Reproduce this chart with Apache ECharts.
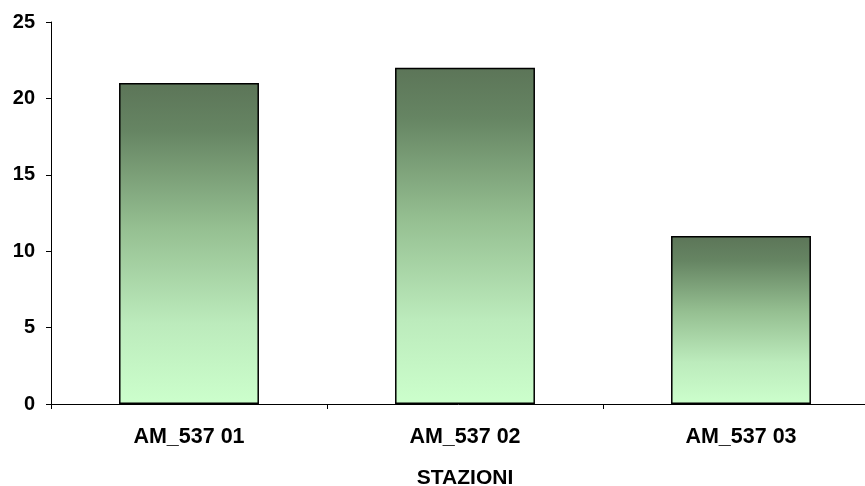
<!DOCTYPE html>
<html>
<head>
<meta charset="utf-8">
<script src="https://cdn.jsdelivr.net/npm/echarts@6/dist/echarts.min.js"></script>
<style>html,body{margin:0;padding:0;background:#fff}#c{width:865px;height:486px}</style>
</head>
<body>
<div id="c"></div>
<script>
var categories = ['AM_537 01', 'AM_537 02', 'AM_537 03'];
var values = [21, 22, 11];
var yTicks = [0, 5, 10, 15, 20, 25];
var xTitle = 'STAZIONI';

var chart = echarts.init(document.getElementById('c'), null, {renderer: 'canvas'});
var font = {fontFamily: 'Liberation Sans, Arial, sans-serif', fontWeight: 'bold', fontSize: 20, color: '#000'};
chart.setOption({
  animation: false,
  grid: {left: 51, width: 828, top: 22, height: 382, outerBoundsMode: 'none', containLabel: false},
  xAxis: {
    type: 'category',
    data: categories,
    name: xTitle,
    nameLocation: 'middle',
    nameGap: 64,
    nameTextStyle: Object.assign({}, font, {fontSize: 21}),
    axisLine: {lineStyle: {color: '#000', width: 1}},
    axisTick: {show: true, length: 5, lineStyle: {color: '#000'}},
    axisLabel: Object.assign({}, font, {margin: 22, fontSize: 21.5})
  },
  yAxis: {
    type: 'value',
    min: yTicks[0],
    max: yTicks[yTicks.length - 1],
    interval: 5,
    splitLine: {show: false},
    axisLine: {show: true, lineStyle: {color: '#000', width: 1}},
    axisTick: {show: true, length: 5, lineStyle: {color: '#000'}},
    axisLabel: Object.assign({margin: 16}, font)
  },
  series: [{
    type: 'bar',
    data: values,
    barWidth: '50.7%',
    itemStyle: {
      borderColor: '#000',
      borderWidth: 1.5,
      color: new echarts.graphic.LinearGradient(0, 0, 0, 1, [
        {offset: 0, color: '#5c7558'},
        {offset: 0.15, color: '#668563'},
        {offset: 0.45, color: '#95bf91'},
        {offset: 0.75, color: '#bcebbc'},
        {offset: 1, color: '#ccffcc'}
      ])
    }
  }]
});
</script>
</body>
</html>
